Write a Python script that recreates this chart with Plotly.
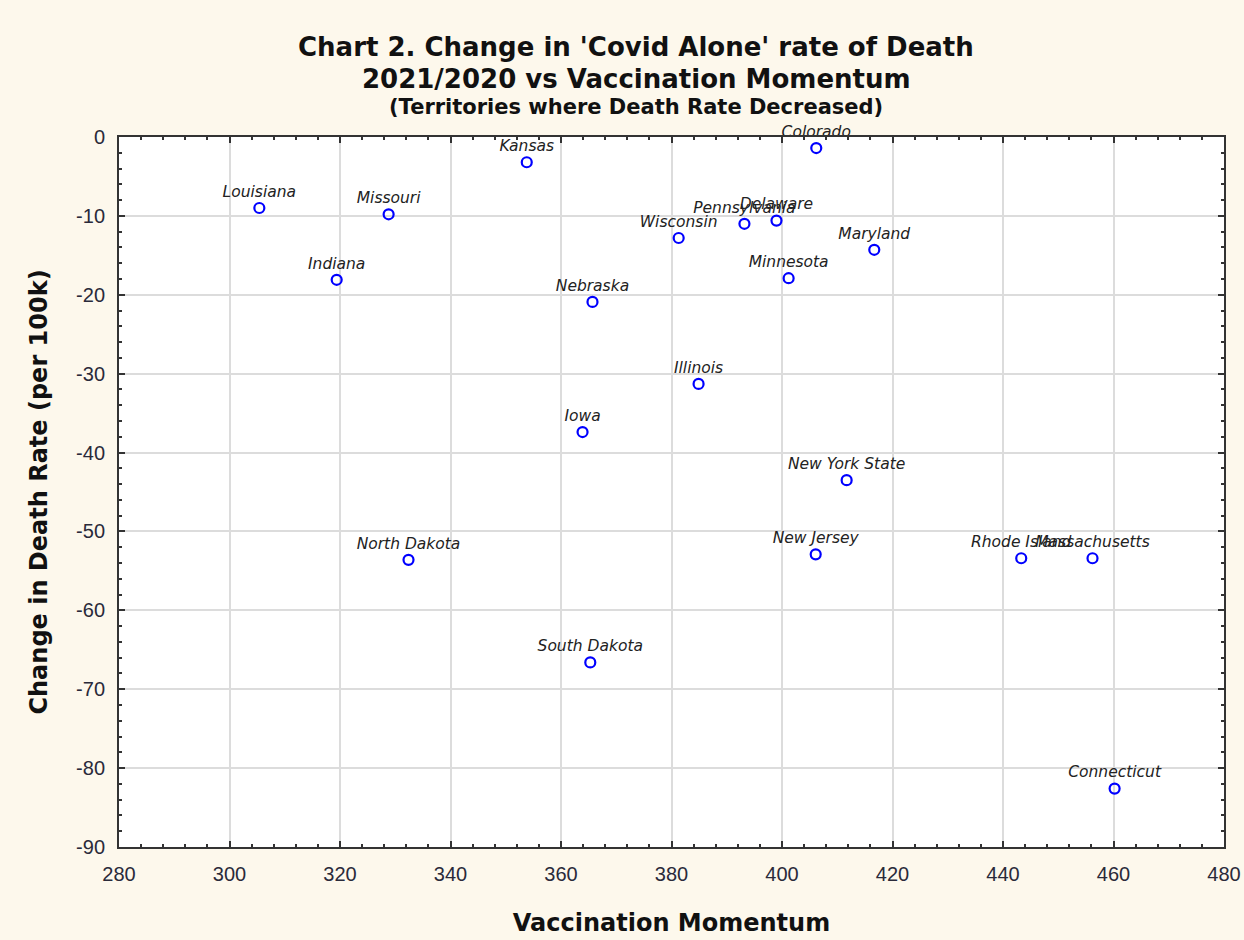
import plotly.graph_objects as go

states = ["Louisiana", "Missouri", "Indiana", "Kansas", "Colorado", "Pennsylvania",
          "Delaware", "Wisconsin", "Maryland", "Minnesota", "Nebraska", "Illinois",
          "Iowa", "New York State", "North Dakota", "New Jersey", "Rhode Island",
          "Massachusetts", "South Dakota", "Connecticut"]
vacc_momentum = [305.4, 328.8, 319.4, 353.8, 406.2, 393.2,
                 399.0, 381.3, 416.7, 401.2, 365.7, 384.9,
                 363.9, 411.7, 332.4, 406.1, 443.3,
                 456.2, 365.3, 460.2]
death_rate_change = [-9.0, -9.8, -18.1, -3.2, -1.4, -11.0,
                     -10.6, -12.8, -14.3, -17.9, -20.9, -31.3,
                     -37.4, -43.5, -53.6, -52.9, -53.4,
                     -53.4, -66.6, -82.6]

x_ticks = [280, 300, 320, 340, 360, 380, 400, 420, 440, 460, 480]
y_ticks = [0, -10, -20, -30, -40, -50, -60, -70, -80, -90]

bg = "#fdf8ec"
fig = go.Figure()
fig.add_trace(go.Scatter(
    x=vacc_momentum, y=death_rate_change, text=states,
    mode="markers+text", textposition="top center",
    textfont=dict(family="DejaVu Sans", size=15.5, color="#222222", style="italic"),
    marker=dict(symbol="circle-open", size=10, color="#0000ff", line=dict(width=2.2, color="#0000ff")),
    cliponaxis=False, showlegend=False, hoverinfo="x+y+text",
))

axis_common = dict(
    showline=True, linecolor="#333333", linewidth=2, mirror="ticks",
    ticks="inside", ticklen=6, tickwidth=2, tickcolor="#333333",
    showgrid=True, gridcolor="#dcdcdc", gridwidth=1.5, zeroline=False,
    automargin=False,
    tickfont=dict(family="Liberation Sans, Arial", size=20, color="#2a2a3a"),
)
fig.update_xaxes(
    range=[280, 480], tickvals=x_ticks, ticktext=[str(v) for v in x_ticks],
    ticklabelstandoff=8,
    minor=dict(dtick=4, ticks="inside", ticklen=3, tickcolor="#333333", showgrid=False),
    title=dict(text="<b>Vaccination Momentum</b>", font=dict(family="DejaVu Sans", size=24, color="#111111"), standoff=30),
    **axis_common,
)
fig.update_yaxes(
    range=[-90, 0], tickvals=y_ticks, ticktext=[str(v) for v in y_ticks],
    ticklabelstandoff=8,
    minor=dict(dtick=2, ticks="inside", ticklen=3, tickcolor="#333333", showgrid=False),
    title=dict(text="<b>Change in Death Rate (per 100k)</b>", font=dict(family="DejaVu Sans", size=24, color="#111111"), standoff=22),
    **axis_common,
)

title_lines = [
    ("Chart 2. Change in 'Covid Alone' rate of Death", 26, 47),
    ("2021/2020 vs Vaccination Momentum", 26, 79),
    ("(Territories where Death Rate Decreased)", 21, 107),
]
for txt, sz, ypx in title_lines:
    fig.add_annotation(
        text=f"<b>{txt}</b>", xref="paper", yref="paper",
        x=(636 - 119) / (1224 - 119), y=(847 - ypx) / (847 - 137),
        xanchor="center", yanchor="middle", showarrow=False,
        font=dict(family="DejaVu Sans", size=sz, color="#111111"),
    )

fig.update_layout(
    width=1244, height=940, autosize=False,
    margin=dict(l=119, r=20, t=137, b=93, autoexpand=False),
    paper_bgcolor=bg, plot_bgcolor="#ffffff",
)
fig.write_html(
    "out.html",
    config={"displayModeBar": False},
    post_script="document.body.style.margin='0';document.body.style.background='#fdf8ec';document.body.style.overflow='hidden';",
)
